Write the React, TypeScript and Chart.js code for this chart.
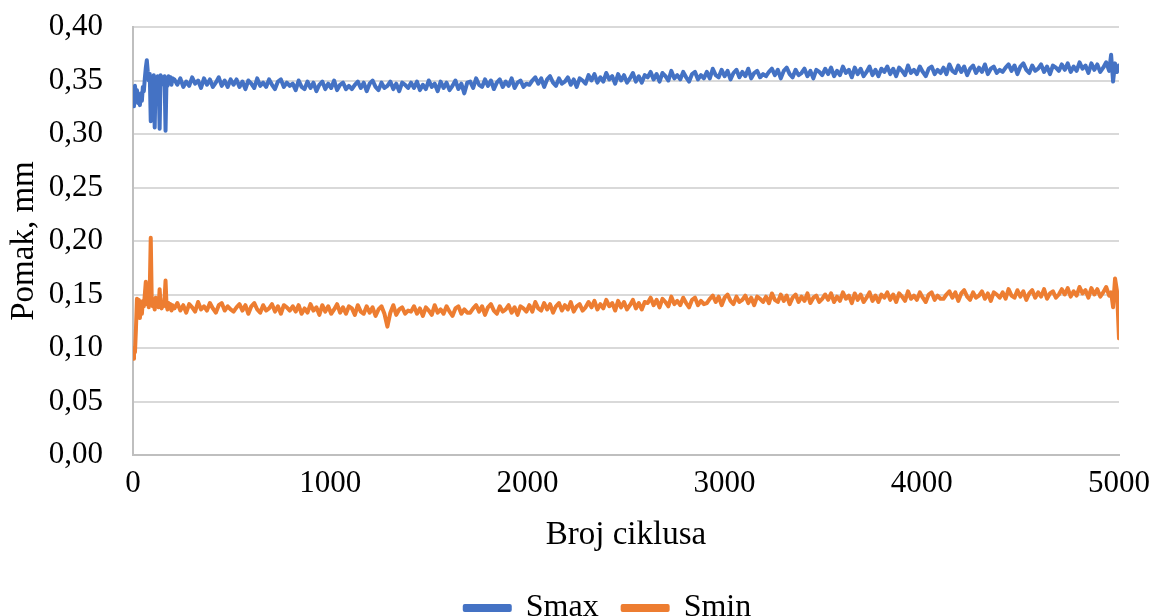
import React, { useEffect, useRef } from "react";
import { Chart, registerables } from "chart.js";

Chart.register(...registerables);

const cycles = [
  0, 5, 10, 15, 20, 25, 30, 35, 40, 45,
  50, 55, 60, 65, 70, 75, 80, 85, 90, 95,
  100, 105, 110, 115, 120, 125, 130, 135, 140, 145,
  150, 155, 160, 165, 170, 175, 180, 185, 190, 195,
  200,
  210, 225, 240, 255, 270, 285, 300, 315, 330, 345, 360, 375, 390, 405, 420, 435, 450, 465, 480, 495,
  510, 525, 540, 555, 570, 585, 600, 615, 630, 645, 660, 675, 690, 705, 720, 735, 750, 765, 780, 795,
  810, 825, 840, 855, 870, 885, 900, 915, 930, 945, 960, 975, 990, 1005, 1020, 1035, 1050, 1065, 1080, 1095,
  1110, 1125, 1140, 1155, 1170, 1185, 1200, 1215, 1230, 1245, 1260, 1275, 1290, 1305, 1320, 1335, 1350, 1365, 1380, 1395,
  1410, 1425, 1440, 1455, 1470, 1485, 1500, 1515, 1530, 1545, 1560, 1575, 1590, 1605, 1620, 1635, 1650, 1665, 1680, 1695,
  1710, 1725, 1740, 1755, 1770, 1785, 1800, 1815, 1830, 1845, 1860, 1875, 1890, 1905, 1920, 1935, 1950, 1965, 1980, 1995,
  2010, 2025, 2040, 2055, 2070, 2085, 2100, 2115, 2130, 2145, 2160, 2175, 2190, 2205, 2220, 2235, 2250, 2265, 2280, 2295,
  2310, 2325, 2340, 2355, 2370, 2385, 2400, 2415, 2430, 2445, 2460, 2475, 2490, 2505, 2520, 2535, 2550, 2565, 2580, 2595,
  2610, 2625, 2640, 2655, 2670, 2685, 2700, 2715, 2730, 2745, 2760, 2775, 2790, 2805, 2820, 2835, 2850, 2865, 2880, 2895,
  2910, 2925, 2940, 2955, 2970, 2985, 3000, 3015, 3030, 3045, 3060, 3075, 3090, 3105, 3120, 3135, 3150, 3165, 3180, 3195,
  3210, 3225, 3240, 3255, 3270, 3285, 3300, 3315, 3330, 3345, 3360, 3375, 3390, 3405, 3420, 3435, 3450, 3465, 3480, 3495,
  3510, 3525, 3540, 3555, 3570, 3585, 3600, 3615, 3630, 3645, 3660, 3675, 3690, 3705, 3720, 3735, 3750, 3765, 3780, 3795,
  3810, 3825, 3840, 3855, 3870, 3885, 3900, 3915, 3930, 3945, 3960, 3975, 3990, 4005, 4020, 4035, 4050, 4065, 4080, 4095,
  4110, 4125, 4140, 4155, 4170, 4185, 4200, 4215, 4230, 4245, 4260, 4275, 4290, 4305, 4320, 4335, 4350, 4365, 4380, 4395,
  4410, 4425, 4440, 4455, 4470, 4485, 4500, 4515, 4530, 4545, 4560, 4575, 4590, 4605, 4620, 4635, 4650, 4665, 4680, 4695,
  4710, 4725, 4740, 4755, 4770, 4785, 4800, 4815, 4830, 4845, 4860, 4875, 4890, 4905, 4920, 4935, 4950,
  4960, 4970, 4980, 4990, 5000,
];

const smax = [
  0.338, 0.326, 0.345, 0.336, 0.341, 0.329, 0.333, 0.327, 0.338, 0.331,
  0.344, 0.340, 0.352, 0.362, 0.369, 0.358, 0.350, 0.356, 0.312, 0.352,
  0.348, 0.355, 0.306, 0.353, 0.347, 0.354, 0.349, 0.305, 0.355, 0.346,
  0.353, 0.348, 0.354, 0.303, 0.352, 0.345, 0.354, 0.349, 0.353, 0.346,
  0.352,
  0.351, 0.346, 0.352, 0.344, 0.349, 0.345, 0.353, 0.347, 0.350, 0.343, 0.352, 0.346, 0.351, 0.344, 0.348, 0.353, 0.345, 0.350, 0.344, 0.351,
  0.346, 0.351, 0.344, 0.349, 0.342, 0.350, 0.347, 0.343, 0.352, 0.345, 0.348, 0.344, 0.351, 0.346, 0.342, 0.349, 0.351, 0.344, 0.348, 0.345,
  0.347, 0.341, 0.350, 0.344, 0.342, 0.349, 0.343, 0.348, 0.340, 0.346, 0.349, 0.342, 0.347, 0.343, 0.350, 0.341, 0.346, 0.348, 0.342, 0.345,
  0.342, 0.346, 0.349, 0.343, 0.348, 0.340, 0.347, 0.350, 0.344, 0.341, 0.348, 0.343, 0.345, 0.349, 0.342, 0.347, 0.340, 0.348, 0.346, 0.343,
  0.348, 0.343, 0.349, 0.341, 0.346, 0.342, 0.350, 0.344, 0.347, 0.340, 0.349, 0.343, 0.348, 0.341, 0.345, 0.350, 0.342, 0.347, 0.338, 0.348,
  0.349, 0.343, 0.352, 0.346, 0.344, 0.351, 0.345, 0.350, 0.342, 0.348, 0.351, 0.344, 0.349, 0.345, 0.352, 0.343, 0.348, 0.350, 0.344, 0.347,
  0.346, 0.350, 0.353, 0.347, 0.352, 0.344, 0.351, 0.354, 0.348, 0.345, 0.352, 0.347, 0.349, 0.353, 0.346, 0.351, 0.344, 0.352, 0.350, 0.347,
  0.355, 0.350, 0.356, 0.348, 0.353, 0.349, 0.357, 0.351, 0.354, 0.347, 0.356, 0.350, 0.355, 0.348, 0.352, 0.357, 0.349, 0.354, 0.348, 0.355,
  0.353, 0.358, 0.351, 0.356, 0.349, 0.357, 0.354, 0.350, 0.359, 0.352, 0.355, 0.351, 0.358, 0.353, 0.349, 0.356, 0.358, 0.351, 0.355, 0.352,
  0.358, 0.352, 0.361, 0.355, 0.353, 0.360, 0.354, 0.359, 0.351, 0.357, 0.360, 0.353, 0.358, 0.354, 0.361, 0.352, 0.357, 0.359, 0.353, 0.356,
  0.354, 0.358, 0.361, 0.355, 0.360, 0.352, 0.359, 0.362, 0.356, 0.353, 0.360, 0.355, 0.357, 0.361, 0.354, 0.359, 0.352, 0.360, 0.358, 0.355,
  0.361, 0.356, 0.362, 0.354, 0.359, 0.355, 0.363, 0.357, 0.360, 0.353, 0.362, 0.356, 0.361, 0.354, 0.358, 0.363, 0.355, 0.360, 0.354, 0.361,
  0.358, 0.363, 0.356, 0.361, 0.354, 0.362, 0.359, 0.355, 0.364, 0.357, 0.360, 0.356, 0.363, 0.358, 0.354, 0.361, 0.363, 0.356, 0.360, 0.357,
  0.362, 0.356, 0.365, 0.359, 0.357, 0.364, 0.358, 0.363, 0.355, 0.361, 0.364, 0.357, 0.362, 0.358, 0.365, 0.356, 0.361, 0.363, 0.357, 0.360,
  0.358, 0.362, 0.365, 0.359, 0.364, 0.356, 0.363, 0.366, 0.360, 0.357, 0.364, 0.359, 0.361, 0.365, 0.358, 0.363, 0.356, 0.364, 0.362, 0.359,
  0.365, 0.360, 0.366, 0.358, 0.363, 0.359, 0.367, 0.361, 0.364, 0.357, 0.366, 0.360, 0.365, 0.358, 0.362, 0.367, 0.359,
  0.374, 0.349, 0.366, 0.358, 0.364,
];

const smin = [
  0.090, 0.100, 0.096, 0.118, 0.146, 0.141, 0.145, 0.128, 0.138, 0.132,
  0.144, 0.139, 0.150, 0.162, 0.141, 0.146, 0.138, 0.155, 0.203, 0.145,
  0.139, 0.143, 0.136, 0.147, 0.140, 0.144, 0.138, 0.155, 0.141, 0.137,
  0.143, 0.139, 0.146, 0.163, 0.140, 0.136, 0.142, 0.137, 0.141, 0.135,
  0.140,
  0.137, 0.142, 0.135, 0.140, 0.133, 0.141, 0.138, 0.134, 0.143, 0.136, 0.139, 0.135, 0.142, 0.137, 0.133, 0.140, 0.142, 0.135, 0.139, 0.136,
  0.134, 0.138, 0.141, 0.135, 0.140, 0.132, 0.139, 0.142, 0.136, 0.133, 0.140, 0.135, 0.137, 0.141, 0.134, 0.139, 0.132, 0.140, 0.138, 0.135,
  0.139, 0.134, 0.140, 0.132, 0.137, 0.133, 0.141, 0.135, 0.138, 0.131, 0.140, 0.134, 0.139, 0.132, 0.136, 0.141, 0.133, 0.138, 0.132, 0.139,
  0.137, 0.131, 0.140, 0.134, 0.132, 0.139, 0.133, 0.138, 0.130, 0.136, 0.139, 0.132, 0.120, 0.133, 0.140, 0.131, 0.136, 0.138, 0.132, 0.135,
  0.134, 0.139, 0.132, 0.137, 0.130, 0.138, 0.135, 0.131, 0.140, 0.133, 0.136, 0.132, 0.139, 0.134, 0.130, 0.137, 0.139, 0.132, 0.136, 0.133,
  0.133, 0.137, 0.140, 0.134, 0.139, 0.131, 0.138, 0.141, 0.135, 0.132, 0.139, 0.134, 0.136, 0.140, 0.133, 0.138, 0.131, 0.139, 0.137, 0.134,
  0.140, 0.134, 0.143, 0.137, 0.135, 0.142, 0.136, 0.141, 0.133, 0.139, 0.142, 0.135, 0.140, 0.136, 0.143, 0.134, 0.139, 0.141, 0.135, 0.138,
  0.143, 0.138, 0.144, 0.136, 0.141, 0.137, 0.145, 0.139, 0.142, 0.135, 0.144, 0.138, 0.143, 0.136, 0.140, 0.145, 0.137, 0.142, 0.136, 0.143,
  0.142, 0.147, 0.140, 0.145, 0.138, 0.146, 0.143, 0.139, 0.148, 0.141, 0.144, 0.140, 0.147, 0.142, 0.138, 0.145, 0.147, 0.140, 0.144, 0.141,
  0.142, 0.146, 0.149, 0.143, 0.148, 0.140, 0.147, 0.150, 0.144, 0.141, 0.148, 0.143, 0.145, 0.149, 0.142, 0.147, 0.140, 0.148, 0.146, 0.143,
  0.148, 0.142, 0.151, 0.145, 0.143, 0.150, 0.144, 0.149, 0.141, 0.147, 0.150, 0.143, 0.148, 0.144, 0.151, 0.142, 0.147, 0.149, 0.143, 0.146,
  0.150, 0.145, 0.151, 0.143, 0.148, 0.144, 0.152, 0.146, 0.149, 0.142, 0.151, 0.145, 0.150, 0.143, 0.147, 0.152, 0.144, 0.149, 0.143, 0.150,
  0.147, 0.152, 0.145, 0.150, 0.143, 0.151, 0.148, 0.144, 0.153, 0.146, 0.149, 0.145, 0.152, 0.147, 0.143, 0.150, 0.152, 0.145, 0.149, 0.146,
  0.146, 0.150, 0.153, 0.147, 0.152, 0.144, 0.151, 0.154, 0.148, 0.145, 0.152, 0.147, 0.149, 0.153, 0.146, 0.151, 0.144, 0.152, 0.150, 0.147,
  0.152, 0.146, 0.155, 0.149, 0.147, 0.154, 0.148, 0.153, 0.145, 0.151, 0.154, 0.147, 0.152, 0.148, 0.155, 0.146, 0.151, 0.153, 0.147, 0.150,
  0.155, 0.150, 0.156, 0.148, 0.153, 0.149, 0.157, 0.151, 0.154, 0.147, 0.156, 0.150, 0.155, 0.148, 0.152, 0.157, 0.149,
  0.152, 0.138, 0.165, 0.153, 0.109,
];

const seriesNames = ["Smax", "Smin"];
const seriesColors = ["#4472C4", "#ED7D31"];
const xTitle = "Broj ciklusa";
const yTitle = "Pomak, mm";

const FONT = "'Liberation Serif', 'Times New Roman', serif";

const legendShift = {
  id: "legendShift",
  afterLayout(chart: any) {
    const lg = chart.legend;
    if (lg) {
      lg.left += 31;
      lg.right += 31;
    }
  },
};

export default function App() {
  const ref = useRef<HTMLCanvasElement | null>(null);

  useEffect(() => {
    if (!ref.current) return;
    const series = [smax, smin];
    const chart = new Chart(ref.current, {
      type: "line",
      data: {
        datasets: series.map((vals, k) => ({
          label: seriesNames[k],
          data: cycles.map((c, i) => ({ x: c, y: vals[i] })),
          borderColor: seriesColors[k],
          backgroundColor: seriesColors[k],
          borderWidth: 4,
          borderJoinStyle: "round" as const,
          borderCapStyle: "round" as const,
          pointRadius: 0,
          tension: 0,
        })),
      },
      plugins: [legendShift],
      options: {
        animation: false,
        responsive: false,
        maintainAspectRatio: false,
        layout: { padding: { top: 27, right: 0, left: 0, bottom: 0 } },
        plugins: {
          tooltip: { enabled: false },
          legend: {
            position: "bottom",
            labels: {
              boxWidth: 45,
              boxHeight: 4,
              padding: 24,
              color: "#000",
              font: { family: FONT, size: 32 },
            },
          },
        },
        scales: {
          x: {
            type: "linear",
            min: 0,
            max: 5000,
            afterFit: (s: any) => {
              s.height = 113;
              s.paddingLeft = 0;
              s.paddingRight = 35;
            },
            ticks: {
              stepSize: 1000,
              color: "#000",
              padding: 10,
              maxRotation: 0,
              font: { family: FONT, size: 31 },
              callback: (v: any) => String(v),
            },
            grid: { display: false, drawTicks: false },
            border: { display: true, color: "#bfbfbf", width: 2 },
            title: {
              display: true,
              text: xTitle,
              color: "#000",
              font: { family: FONT, size: 33 },
              padding: { top: 0, bottom: 12.5 },
            },
          },
          y: {
            min: 0,
            max: 0.4,
            afterFit: (s: any) => {
              s.width = 133;
              s.paddingTop = 0;
            },
            ticks: {
              stepSize: 0.05,
              color: "#000",
              padding: 30,
              font: { family: FONT, size: 31 },
              callback: (v: any) => Number(v).toFixed(2).replace(".", ","),
            },
            grid: { color: "#d9d9d9", lineWidth: 2, drawTicks: false },
            border: { display: true, color: "#bfbfbf", width: 2 },
            title: {
              display: true,
              text: yTitle,
              color: "#000",
              font: { family: FONT, size: 33 },
              padding: { top: 5, bottom: 0 },
            },
          },
        },
      },
    });
    return () => chart.destroy();
  }, []);

  return (
    <div style={{ position: "fixed", left: 0, top: 0, width: 1154, height: 616, overflow: "hidden", background: "#fff" }}>
      <canvas ref={ref} width={1154} height={634} style={{ display: "block" }} />
    </div>
  );
}
